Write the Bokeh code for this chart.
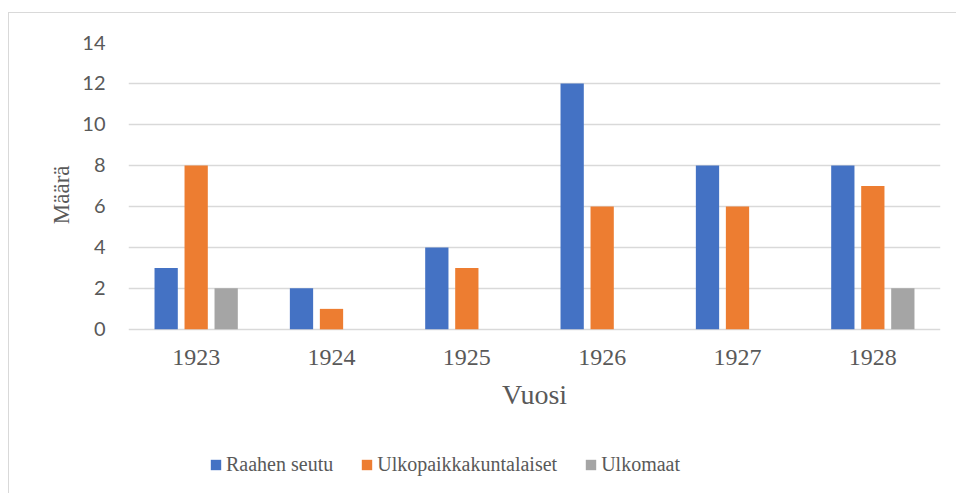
from bokeh.plotting import figure
from bokeh.models import ColumnDataSource, FactorRange, Legend, LegendItem, FixedTicker, Range1d, Title
from bokeh.transform import dodge
from bokeh.embed import file_html
from bokeh.resources import INLINE

years = ["1923", "1924", "1925", "1926", "1927", "1928"]
raahen_seutu = [3, 2, 4, 12, 8, 8]
ulkopaikkakuntalaiset = [8, 1, 3, 6, 6, 7]
ulkomaat = [2, 0, 0, 0, 0, 2]
series_names = ["Raahen seutu", "Ulkopaikkakuntalaiset", "Ulkomaat"]
series_colors = ["#4472C4", "#ED7D31", "#A5A5A5"]
y_ticks = [0, 2, 4, 6, 8, 10, 12, 14]

source = ColumnDataSource(data=dict(
    years=years, raahen=raahen_seutu, ulkop=ulkopaikkakuntalaiset, ulkom=ulkomaat))

# the frame reaches the bottom of the canvas so the legend can sit inside it;
# the value axis still maps 0..14 onto the same pixel span as the reference
y_bottom = -8.06

p = figure(
    x_range=FactorRange(factors=years, range_padding=0),
    y_range=Range1d(y_bottom, 14),
    width=948, height=481,
    output_backend="svg", toolbar_location=None,
    min_border_left=119, min_border_right=17, min_border_top=29, min_border_bottom=0,
)
p.margin = (12, 0, 0, 8)
p.styles = {"border-top": "1px solid #d9d9d9", "border-left": "1px solid #d9d9d9"}

step = 0.2217
bw = 0.172
cols = ["raahen", "ulkop", "ulkom"]
renderers = []
for i, (col, color) in enumerate(zip(cols, series_colors)):
    r = p.vbar(x=dodge("years", (i - 1) * step, range=p.x_range), top=col, width=bw,
               source=source, fill_color=color, line_color=None)
    renderers.append(r)

p.outline_line_color = None
p.xgrid.grid_line_color = None
p.ygrid.grid_line_color = "#D9D9D9"
p.ygrid.grid_line_width = 1.3

p.yaxis.ticker = FixedTicker(ticks=y_ticks)
p.xaxis.fixed_location = 0
for ax in (p.xaxis, p.yaxis):
    ax.axis_line_color = None
    ax.major_tick_line_color = None
    ax.minor_tick_line_color = None
    ax.major_tick_out = 0
    ax.major_tick_in = 0
    ax.major_label_text_color = "#595959"
    ax.axis_label_text_color = "#595959"
    ax.axis_label_text_font_style = "normal"

p.yaxis.major_label_text_font = "Lato"
p.yaxis.major_label_text_font_size = "20px"
p.yaxis.major_label_standoff = 23

# value-axis title, placed beside the 0..14 span rather than the whole frame
p.add_layout(Title(text="Määrä", align="right", offset=123, standoff=11,
                   text_font="Liberation Serif", text_font_size="23px",
                   text_font_style="normal", text_color="#595959"), "left")

p.xaxis.major_label_text_font = "Liberation Serif"
p.xaxis.major_label_text_font_size = "24px"
p.xaxis.major_label_standoff = 21
p.xaxis.axis_label = "Vuosi"
p.xaxis.axis_label_text_font = "Liberation Serif"
p.xaxis.axis_label_text_font_size = "28px"
p.xaxis.axis_label_standoff = 10

legend = Legend(
    items=[LegendItem(label=n, renderers=[r]) for n, r in zip(series_names, renderers)],
    orientation="horizontal",
    location=(81, 18),
    padding=0, margin=0, spacing=27, label_standoff=4,
    glyph_width=13, glyph_height=13,
    border_line_color=None, background_fill_alpha=0,
    label_text_font="Liberation Serif", label_text_font_size="20px",
    label_text_color="#595959",
)
p.add_layout(legend, "center")

open("out.html", "w").write(file_html(p, INLINE))
